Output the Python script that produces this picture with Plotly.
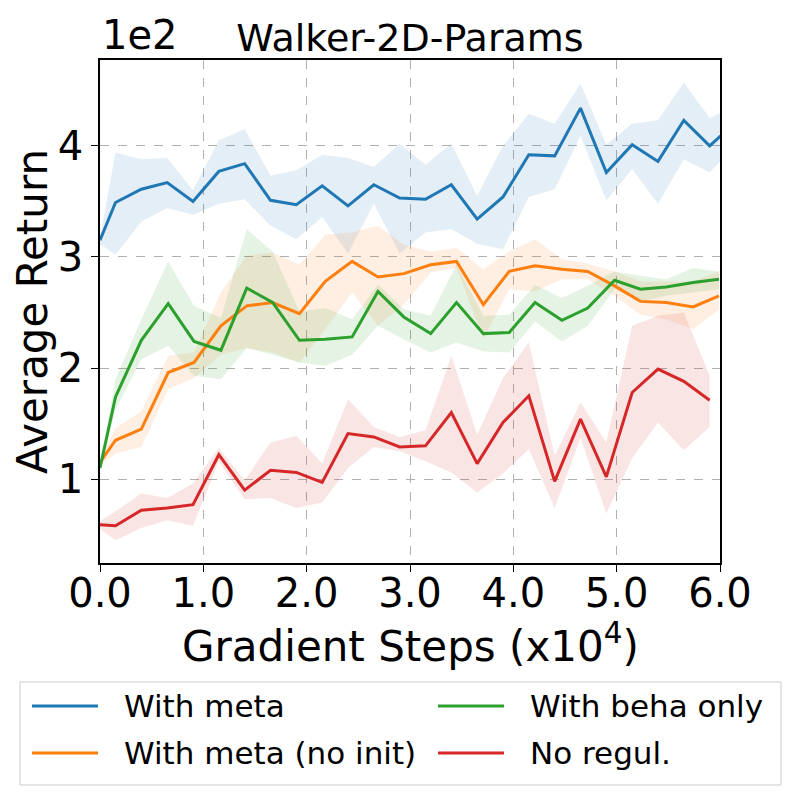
import plotly.graph_objects as go

# gradient steps (x1e4); the two groups of runs were logged on slightly different grids
steps_a = [0, 0.15, 0.40, 0.65, 0.90, 1.15, 1.40, 1.65, 1.90, 2.15, 2.40, 2.65, 2.90,
           3.15, 3.40, 3.65, 3.90, 4.15, 4.40, 4.65, 4.90, 5.15, 5.40, 5.65, 5.90, 6.15]
steps_b = [0, 0.15, 0.40, 0.66, 0.91, 1.17, 1.42, 1.67, 1.93, 2.18, 2.44, 2.69, 2.94,
           3.20, 3.45, 3.71, 3.96, 4.21, 4.47, 4.72, 4.98, 5.23, 5.48, 5.74, 5.99]

# average return (x1e2): mean, upper and lower edge of the shaded band
meta_mean = [3.15, 3.49, 3.61, 3.67, 3.50, 3.77, 3.84, 3.51, 3.47, 3.64, 3.46, 3.65, 3.53,
             3.52, 3.65, 3.34, 3.54, 3.92, 3.91, 4.34, 3.76, 4.01, 3.86, 4.23, 4.00, 4.21]
meta_hi = [3.17, 3.94, 3.88, 3.89, 3.60, 4.05, 4.15, 3.73, 3.78, 3.92, 3.89, 3.81, 4.02,
           3.83, 4.02, 3.55, 4.00, 4.29, 4.20, 4.56, 4.01, 4.20, 4.23, 4.57, 4.25, 4.36]
meta_lo = [3.12, 3.02, 3.32, 3.44, 3.38, 3.48, 3.52, 3.28, 3.16, 3.36, 3.03, 3.48, 3.03,
           3.22, 3.25, 3.12, 3.07, 3.54, 3.61, 4.09, 3.51, 3.79, 3.48, 3.88, 3.76, 4.00]

noinit_mean = [1.15, 1.35, 1.45, 1.96, 2.05, 2.38, 2.56, 2.59, 2.49, 2.78, 2.96, 2.82, 2.85,
               2.93, 2.96, 2.57, 2.87, 2.92, 2.89, 2.87, 2.74, 2.60, 2.59, 2.55, 2.65]
noinit_hi = [1.17, 1.46, 1.61, 2.11, 2.14, 2.68, 3.01, 3.04, 2.93, 3.20, 3.22, 3.28, 3.11,
             3.05, 3.08, 2.89, 3.05, 3.16, 2.98, 2.94, 2.87, 2.78, 2.78, 2.78, 2.87]
noinit_lo = [1.12, 1.23, 1.29, 1.81, 1.91, 2.12, 2.18, 2.14, 2.05, 2.35, 2.68, 2.38, 2.57,
             2.86, 2.90, 2.26, 2.71, 2.69, 2.80, 2.80, 2.65, 2.48, 2.44, 2.35, 2.53]

beha_mean = [1.10, 1.74, 2.25, 2.58, 2.24, 2.16, 2.72, 2.59, 2.25, 2.26, 2.28, 2.69, 2.46,
             2.31, 2.59, 2.31, 2.32, 2.59, 2.43, 2.54, 2.79, 2.71, 2.73, 2.77, 2.80]
beha_hi = [1.12, 1.90, 2.44, 2.96, 2.56, 2.45, 3.25, 3.05, 2.51, 2.54, 2.44, 2.75, 2.53,
           2.47, 2.93, 2.47, 2.48, 2.75, 2.63, 2.74, 2.87, 2.83, 2.80, 2.90, 2.87]
beha_lo = [1.08, 1.62, 2.08, 2.20, 1.93, 1.90, 2.18, 2.12, 2.05, 2.02, 2.12, 2.38, 2.26,
           2.14, 2.23, 2.15, 2.14, 2.42, 2.24, 2.38, 2.71, 2.60, 2.65, 2.68, 2.71]

noreg_mean = [0.59, 0.58, 0.72, 0.74, 0.77, 1.22, 0.90, 1.08, 1.06, 0.97, 1.41, 1.38, 1.29,
              1.30, 1.60, 1.14, 1.51, 1.75, 0.98, 1.54, 1.02, 1.78, 1.99, 1.88, 1.71]
noreg_hi = [0.62, 0.71, 0.87, 0.83, 0.96, 1.28, 0.99, 1.33, 1.39, 1.14, 1.72, 1.47, 1.38,
            1.44, 2.11, 1.40, 1.91, 2.23, 1.21, 1.69, 1.33, 2.38, 2.47, 2.50, 1.93]
noreg_lo = [0.55, 0.45, 0.56, 0.63, 0.58, 1.16, 0.82, 0.83, 0.74, 0.79, 1.10, 1.29, 1.25,
            1.16, 1.06, 0.88, 1.05, 1.27, 0.74, 1.37, 0.69, 1.19, 1.51, 1.26, 1.47]

series = [
    ("With meta", steps_a, meta_mean, meta_hi, meta_lo, "#1f77b4", "rgba(31,119,180,0.12)"),
    ("With meta (no init)", steps_b, noinit_mean, noinit_hi, noinit_lo, "#ff7f0e", "rgba(255,127,14,0.12)"),
    ("With beha only", steps_b, beha_mean, beha_hi, beha_lo, "#2ca02c", "rgba(44,160,44,0.12)"),
    ("No regul.", steps_a, noreg_mean, noreg_hi, noreg_lo, "#d62728", "rgba(214,39,40,0.12)"),
]

FONT = "DejaVu Sans"
# the page body adds an 8px offset, so the figure is 792 px and margins are shifted by 8
W, H = 792, 792
L, R, T, B = 92, 80, 52, 237
OFF = 8


def fx(px):
    # screen pixel -> paper x
    return (px - OFF - L) / (W - L - R)


def fy(py):
    # screen pixel -> paper y
    return (H - B - (py - OFF)) / (H - T - B)


fig = go.Figure()

# shaded bands first
for name, x, mean, hi, lo, color, fill in series:
    fig.add_trace(go.Scatter(x=x, y=hi, mode="lines", line=dict(width=0),
                             showlegend=False, hoverinfo="skip"))
    fig.add_trace(go.Scatter(x=x, y=lo, mode="lines", line=dict(width=0),
                             fill="tonexty", fillcolor=fill,
                             showlegend=False, hoverinfo="skip"))

for name, x, mean, hi, lo, color, fill in series:
    fig.add_trace(go.Scatter(x=x, y=mean, mode="lines", name=name,
                             line=dict(color=color, width=3)))

# legend drawn by hand, two columns filled top to bottom like matplotlib's ncol=2
shapes = [dict(type="rect", xref="paper", yref="paper",
               x0=fx(20), x1=fx(781), y0=fy(682), y1=fy(785),
               line=dict(color="#cccccc", width=1), fillcolor="rgba(255,255,255,0.8)",
               layer="above")]
annotations = [
    dict(text="1e2", x=0, y=1, xref="paper", yref="paper",
         xanchor="left", yanchor="bottom", showarrow=False,
         font=dict(size=40, family=FONT, color="black")),
    dict(text="Gradient Steps (x10<sup>4</sup>)", x=0.5, y=fy(643), xref="paper", yref="paper",
         xanchor="center", yanchor="middle", showarrow=False,
         font=dict(size=42, family=FONT, color="black")),
]
col_x = [32, 438]
row_y = [706, 753]
for i, (name, x, mean, hi, lo, color, fill) in enumerate(series):
    cx = col_x[i // 2]
    ry = row_y[i % 2]
    shapes.append(dict(type="line", xref="paper", yref="paper",
                       x0=fx(cx), x1=fx(cx + 66), y0=fy(ry), y1=fy(ry),
                       line=dict(color=color, width=3)))
    annotations.append(dict(text=name, x=fx(cx + 90), y=fy(ry), xref="paper", yref="paper",
                            xanchor="left", yanchor="middle", showarrow=False,
                            font=dict(size=31, family=FONT, color="black")))

fig.update_layout(
    width=W,
    height=H,
    margin=dict(l=L, r=R, t=T, b=B, autoexpand=False),
    paper_bgcolor="white",
    plot_bgcolor="white",
    showlegend=False,
    font=dict(family=FONT, color="black"),
    title=dict(
        text="Walker-2D-Params",
        font=dict(size=38, family=FONT, color="black"),
        x=0.5, xref="paper", xanchor="center",
        y=1 - (38 - OFF) / H, yref="container", yanchor="middle",
    ),
    xaxis=dict(
        range=[0, 6],
        tickvals=[0, 1, 2, 3, 4, 5, 6],
        tickformat=".1f",
        tickfont=dict(size=40),
        ticklabelstandoff=-13,
        ticks="outside", ticklen=7, tickwidth=1.3, tickcolor="black",
        showline=True, linecolor="black", linewidth=1.5, mirror=True,
        showgrid=True, gridcolor="#b0b0b0", griddash="dash", gridwidth=1.2,
        zeroline=False,
    ),
    yaxis=dict(
        range=[0.245, 4.773],
        tickvals=[1, 2, 3, 4],
        tickfont=dict(size=40),
        ticks="outside", ticklen=7, tickwidth=1.3, tickcolor="black",
        showline=True, linecolor="black", linewidth=1.5, mirror=True,
        showgrid=True, gridcolor="#b0b0b0", griddash="dash", gridwidth=1.2,
        zeroline=False,
        title=dict(text="Average Return", font=dict(size=42), standoff=4),
    ),
    shapes=shapes,
    annotations=annotations,
)

fig.write_html("out.html")
